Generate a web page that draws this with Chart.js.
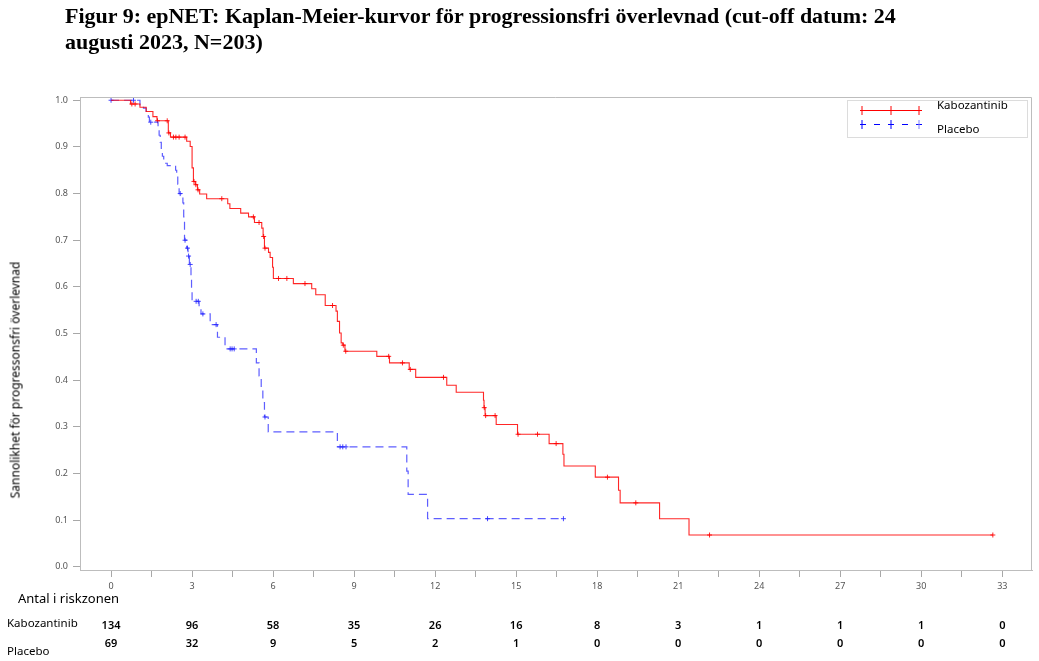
<!DOCTYPE html>
<html>
<head>
<meta charset="utf-8">
<script src="https://cdn.jsdelivr.net/npm/chart.js@4/dist/chart.umd.min.js"></script>
<style>
html,body{margin:0;padding:0;background:#fff;}
#wrap{position:relative;width:1039px;height:661px;overflow:hidden;background:#fff;}
#c{position:absolute;left:0;top:0;}
.t{position:absolute;white-space:nowrap;color:#000;}
#title{left:65px;top:3px;font-family:"Liberation Serif","Times New Roman",serif;font-weight:bold;font-size:22px;line-height:26px;}
#ytitle{left:15px;top:380px;transform:translate(-50%,-50%) rotate(-90deg);font-family:"Noto Sans",sans-serif;font-size:12px;}
#legend{position:absolute;left:847px;top:100px;width:179px;height:36px;border:1px solid #dcdcdc;background:#fff;}
.lg{font-family:"Noto Sans",sans-serif;font-size:11.5px;}
.rk{font-family:"Noto Sans",sans-serif;font-size:11.5px;}
.num{font-family:"Noto Sans",sans-serif;font-size:11px;font-weight:600;transform:translate(-50%,-50%);}
</style>
</head>
<body>
<div id="wrap">
<canvas id="c" width="1039" height="661"></canvas>
<div id="title" class="t">Figur 9: epNET: Kaplan-Meier-kurvor för progressionsfri överlevnad (cut-off datum: 24<br>augusti 2023, N=203)</div>
<div id="ytitle" class="t">Sannolikhet för progressonsfri överlevnad</div>
<div id="legend">
  <svg width="179" height="36" style="position:absolute;left:0;top:0">
    <line x1="12" y1="9.5" x2="74" y2="9.5" stroke="#ff0000" stroke-width="1"/>
    <line x1="14" y1="5" x2="14" y2="14" stroke="#ff0000" stroke-width="1"/>
    <line x1="43" y1="5" x2="43" y2="14" stroke="#ff0000" stroke-width="1"/>
    <line x1="71" y1="5" x2="71" y2="14" stroke="#ff0000" stroke-width="1"/>
    <line x1="12" y1="23.5" x2="74" y2="23.5" stroke="#0000ff" stroke-width="1" stroke-dasharray="6,8"/>
    <line x1="14" y1="19" x2="14" y2="28" stroke="#0000ff" stroke-width="1"/>
    <line x1="43" y1="19" x2="43" y2="28" stroke="#0000ff" stroke-width="1"/>
    <line x1="71" y1="19" x2="71" y2="28" stroke="#8080ff" stroke-width="1"/>
  </svg>
  <div class="t lg" style="left:89px;top:-4px;">Kabozantinib</div>
  <div class="t lg" style="left:89px;top:20px;">Placebo</div>
</div>
<div class="t rk" style="left:18px;top:589px;font-size:13px;">Antal i riskzonen</div>
<div class="t rk" style="left:7px;top:615px;">Kabozantinib</div>
<div class="t rk" style="left:7px;top:643px;">Placebo</div>
<div id="risk"></div>
</div>
<script>
// ---- Data ----
const kaboTime = [0, 0.72, 1.07, 1.3, 1.55, 1.7, 2.12, 2.2, 2.8, 2.93, 3.0, 3.05, 3.12, 3.2, 3.28, 3.54, 4.32, 4.4, 4.8, 5.09, 5.31, 5.58, 5.63, 5.68, 5.83, 5.89, 5.98, 6.01, 6.75, 7.43, 7.58, 7.93, 8.33, 8.38, 8.46, 8.52, 8.58, 8.66, 9.84, 10.31, 11.04, 11.28, 12.43, 12.78, 13.79, 13.81, 13.85, 14.26, 15.05, 16.22, 16.73, 16.77, 17.93, 18.79, 18.85, 20.31, 21.4, 32.65];
const kaboSurv = [1, 0.992, 0.985, 0.976, 0.965, 0.956, 0.93, 0.921, 0.912, 0.901, 0.855, 0.826, 0.819, 0.808, 0.799, 0.789, 0.778, 0.768, 0.758, 0.75, 0.738, 0.726, 0.708, 0.683, 0.674, 0.663, 0.642, 0.618, 0.607, 0.596, 0.583, 0.56, 0.548, 0.526, 0.501, 0.48, 0.475, 0.462, 0.451, 0.437, 0.423, 0.406, 0.389, 0.374, 0.357, 0.341, 0.324, 0.305, 0.284, 0.264, 0.241, 0.216, 0.192, 0.164, 0.137, 0.103, 0.068, 0.068];
const kaboCensored = [0.77, 0.89, 1.72, 2.08, 2.14, 2.31, 2.4, 2.52, 2.74, 3.07, 3.14, 3.22, 4.1, 5.27, 5.48, 5.65, 5.7, 6.2, 6.51, 7.18, 8.2, 8.6, 8.69, 10.28, 10.79, 11.08, 12.31, 13.82, 13.87, 14.22, 15.07, 15.79, 16.48, 18.38, 19.43, 22.16, 32.65];

const placeboTime = [0, 1.07, 1.2, 1.3, 1.38, 1.42, 1.74, 1.78, 1.82, 1.86, 1.9, 1.95, 2.0, 2.08, 2.39, 2.43, 2.47, 2.52, 2.66, 2.69, 2.72, 2.8, 2.85, 2.9, 2.96, 2.98, 3.0, 3.26, 3.33, 3.67, 3.94, 4.22, 5.38, 5.48, 5.56, 5.62, 5.68, 5.82, 8.38, 10.95, 11.0, 11.72, 16.75];
const placeboSurv = [1, 0.99, 0.983, 0.976, 0.964, 0.953, 0.94, 0.925, 0.91, 0.895, 0.88, 0.87, 0.865, 0.86, 0.85, 0.84, 0.82, 0.80, 0.78, 0.75, 0.70, 0.683, 0.666, 0.648, 0.62, 0.595, 0.569, 0.552, 0.542, 0.519, 0.492, 0.467, 0.437, 0.409, 0.38, 0.352, 0.321, 0.289, 0.257, 0.205, 0.155, 0.103, 0.103];
const placeboCensored = [0, 0.83, 1.47, 2.56, 2.74, 2.83, 2.87, 2.93, 3.15, 3.23, 3.4, 3.89, 4.41, 4.48, 4.56, 5.7, 8.48, 8.58, 8.7, 13.94, 16.75];

const xTickValues = [0, 1.5, 3, 4.5, 6, 7.5, 9, 10.5, 12, 13.5, 15, 16.5, 18, 19.5, 21, 22.5, 24, 25.5, 27, 28.5, 30, 31.5, 33];
const yTickValues = [0, 0.1, 0.2, 0.3, 0.4, 0.5, 0.6, 0.7, 0.8, 0.9, 1.0];

const riskTimes = [0, 3, 6, 9, 12, 15, 18, 21, 24, 27, 30, 33];
const kaboRisk = [134, 96, 58, 35, 26, 16, 8, 3, 1, 1, 1, 0];
const placeboRisk = [69, 32, 9, 5, 2, 1, 0, 0, 0, 0, 0, 0];

// step-function lookup so censor marks sit on their curve
function survAt(times, surv, t) {
  let s = surv[0];
  for (let i = 0; i < times.length; i++) { if (times[i] <= t) s = surv[i]; }
  return s;
}

const framePlugin = {
  id: 'frame',
  afterDraw(chart) {
    const a = chart.chartArea, c = chart.ctx;
    c.save();
    c.strokeStyle = '#bdbdbd';
    c.lineWidth = 1;
    c.beginPath();
    c.moveTo(a.left, a.top + 0.5); c.lineTo(a.right - 0.5, a.top + 0.5);
    c.lineTo(a.right - 0.5, a.bottom);
    c.stroke();
    c.restore();
  }
};

const tickFont = { family: 'Noto Sans', size: 9 };

const chart = new Chart(document.getElementById('c'), {
  type: 'scatter',
  data: {
    datasets: [
      { label: 'Kabozantinib', data: kaboTime.map((t, i) => ({ x: t, y: kaboSurv[i] })), showLine: true, stepped: 'before', borderColor: 'rgba(255,0,0,0.85)', borderWidth: 1.1, pointRadius: 0, fill: false },
      { label: 'Placebo', data: placeboTime.map((t, i) => ({ x: t, y: placeboSurv[i] })), showLine: true, stepped: 'before', borderColor: 'rgba(40,40,255,0.75)', borderWidth: 1.2, borderDash: [8, 5], pointRadius: 0, fill: false },
      { label: 'Kabozantinib censur', data: kaboCensored.map(t => ({ x: t, y: survAt(kaboTime, kaboSurv, t) })), pointStyle: 'cross', pointRadius: 2.5, borderColor: 'rgba(255,0,0,0.85)', borderWidth: 1, showLine: false },
      { label: 'Placebo censur', data: placeboCensored.map(t => ({ x: t, y: survAt(placeboTime, placeboSurv, t) })), pointStyle: 'cross', pointRadius: 2.5, borderColor: 'rgba(40,40,255,0.85)', borderWidth: 1, showLine: false }
    ]
  },
  options: {
    responsive: false,
    animation: false,
    layout: { padding: { top: 97, left: 0, right: 7, bottom: 61 } },
    plugins: { legend: { display: false }, tooltip: { enabled: false } },
    scales: {
      x: {
        type: 'linear', min: -1.15, max: 34.1,
        afterBuildTicks: s => { s.ticks = xTickValues.map(v => ({ value: v })); },
        afterFit: s => { s.height = 30; },
        grid: { drawOnChartArea: false, tickLength: 7, color: '#a8a8a8' },
        border: { color: '#bdbdbd' },
        ticks: { autoSkip: false, maxRotation: 0, padding: 4, color: '#555', font: tickFont,
          callback: v => (Math.abs(v % 3) < 1e-9 ? String(v) : '') }
      },
      y: {
        type: 'linear', min: -0.007, max: 1.007,
        afterBuildTicks: s => { s.ticks = yTickValues.map(v => ({ value: v })); },
        afterFit: s => { s.width = 80; },
        grid: { drawOnChartArea: false, tickLength: 7, color: '#a8a8a8' },
        border: { color: '#bdbdbd' },
        ticks: { autoSkip: false, padding: 5, color: '#555', font: tickFont,
          callback: v => Number(v).toFixed(1) }
      }
    }
  },
  plugins: [framePlugin]
});

// at-risk table, positioned from the chart's own x scale
const risk = document.getElementById('risk');
const xs = chart.scales.x;
riskTimes.forEach((t, i) => {
  const px = xs.getPixelForValue(t);
  const a = document.createElement('div');
  a.className = 't num'; a.style.left = px + 'px'; a.style.top = '624px'; a.textContent = kaboRisk[i];
  risk.appendChild(a);
  const b = document.createElement('div');
  b.className = 't num'; b.style.left = px + 'px'; b.style.top = '642px'; b.textContent = placeboRisk[i];
  risk.appendChild(b);
});
</script>
</body>
</html>
